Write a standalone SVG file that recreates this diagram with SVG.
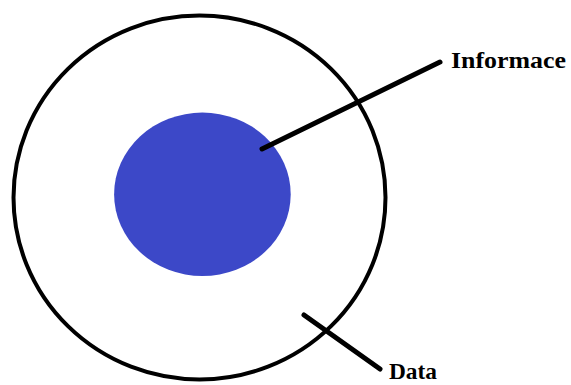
<svg xmlns="http://www.w3.org/2000/svg" width="571" height="385" viewBox="0 0 571 385">
<style>
.lbl{font-family:"Liberation Serif","Times New Roman",serif;font-weight:bold;font-size:23px;fill:#000}
.conn{stroke:#000;stroke-width:5;stroke-linecap:round;fill:none}
</style>
<rect width="571" height="385" fill="#fff"/>
<g id="data">
<ellipse cx="199.5" cy="197.5" rx="186" ry="182" fill="none" stroke="#000" stroke-width="4"/>
</g>
<g id="informace">
<ellipse cx="202.4" cy="194.3" rx="88.3" ry="81.7" fill="#3c48c8"/>
</g>
<g id="connectors">
<line class="conn" x1="262" y1="149" x2="440" y2="62"/>
<line class="conn" x1="304" y1="315" x2="380" y2="369"/>
</g>
<g id="labels">
<text class="lbl" x="451" y="68" textLength="115" lengthAdjust="spacingAndGlyphs">Informace</text>
<text class="lbl" x="389" y="379" textLength="48" lengthAdjust="spacingAndGlyphs">Data</text>
</g>
</svg>
